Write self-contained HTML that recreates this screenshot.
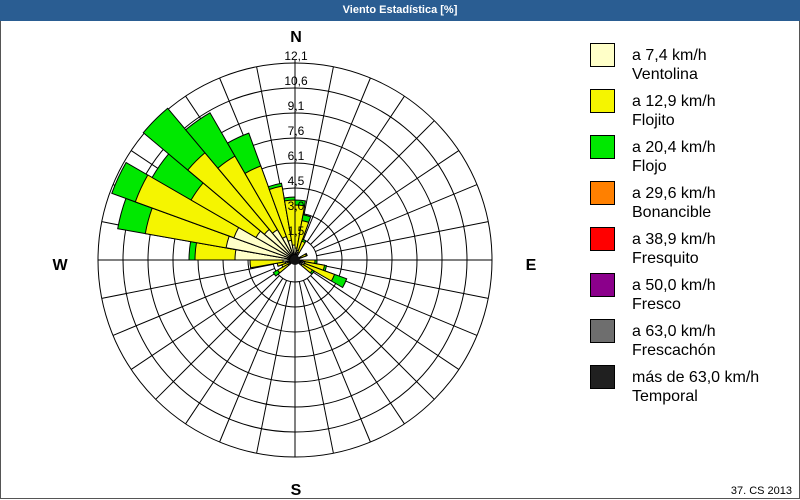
<!DOCTYPE html><html><head><style>
body{margin:0;width:800px;height:500px;overflow:hidden;background:#fff;font-family:"Liberation Sans",sans-serif}
#t{position:absolute;left:0;top:0;width:800px;height:21px;background:#2a5d92;color:#fff;font-size:11px;font-weight:bold;text-align:center;line-height:21px}
#f{position:absolute;left:0;top:21px;width:798px;height:477px;border:1px solid #555;border-top:none}
</style></head><body>
<div id="t">Viento Estadística [%]</div><div id="f"></div>
<svg id="s" width="800" height="500" style="position:absolute;left:0;top:0" font-family="Liberation Sans, sans-serif"></svg>
<script>
var s=document.getElementById('s'),cx=295,cy=260,h='';
function P(b,r){var a=b*Math.PI/180;return [(cx+r*Math.sin(a)).toFixed(1),(cy-r*Math.cos(a)).toFixed(1)];}
for(var i=0;i<8;i++){h+='<circle cx="'+cx+'" cy="'+cy+'" r="'+(197-25*i)+'" fill="none" stroke="#000" stroke-width="1"/>';}
for(var k=0;k<32;k++){var a=P(k*11.25,22),b=P(k*11.25,197);h+='<line x1="'+a[0]+'" y1="'+a[1]+'" x2="'+b[0]+'" y2="'+b[1]+'" stroke="#000"/>';}
h+='<line x1="'+(cx-197)+'" y1="'+cy+'" x2="'+(cx+197)+'" y2="'+cy+'" stroke="#000"/><line x1="'+cx+'" y1="'+(cy-200)+'" x2="'+cx+'" y2="'+(cy+197)+'" stroke="#000"/>';
function W(c,r,col){var a=P(c-5,r),b=P(c+5,r);h+='<path d="M'+cx+' '+cy+'L'+a[0]+' '+a[1]+'A'+r+' '+r+' 0 0 1 '+b[0]+' '+b[1]+'Z" fill="'+col+'" stroke="#000" stroke-width="1"/>';}
var d=[[275,60,100,106],[285,70,152,180],[295,65,170,195],[305,45,120,165],[315,40,140,198],[325,35,120,170],[335,25,100,135],[345,20,75,78],[355,15,60,63],[5,12,55,60],[15,10,40,46],[25,8,20,22],[65,6,12,13],[95,8,20,22],[105,10,30,32],[115,10,42,55],[125,8,20,22],[235,8,20,25],[255,10,18,18],[265,12,45,45],[245,6,14,14]];
d.forEach(function(e){W(e[0],e[3],'#00e800');W(e[0],e[2],'#f5f500');W(e[0],e[1],'#ffffc8');});
h+='<circle cx="'+cx+'" cy="'+cy+'" r="5" fill="#111"/>';
var L=['12,1','10,6','9,1','7,6','6,1','4,5','3,0','1,5'];
L.forEach(function(t,i){h+='<text x="'+(cx+1)+'" y="'+(cy-200+25*i)+'" font-size="12" text-anchor="middle" fill="#000">'+t+'</text>';});
h+='<g font-size="16" font-weight="bold"><text x="296" y="42" text-anchor="middle">N</text><text x="296" y="495" text-anchor="middle">S</text><text x="60" y="270" text-anchor="middle">W</text><text x="531" y="270" text-anchor="middle">E</text></g>';
var G=[['#ffffc8','a 7,4 km/h','Ventolina'],['#f5f500','a 12,9 km/h','Flojito'],['#00e800','a 20,4 km/h','Flojo'],['#ff8000','a 29,6 km/h','Bonancible'],['#ff0000','a 38,9 km/h','Fresquito'],['#8b008b','a 50,0 km/h','Fresco'],['#6e6e6e','a 63,0 km/h','Frescachón'],['#202020','más de 63,0 km/h','Temporal']];
G.forEach(function(g,i){var y=43+46*i;h+='<rect x="590.5" y="'+(y+.5)+'" width="24" height="23" fill="'+g[0]+'" stroke="#000"/><text x="632" y="'+(y+17)+'" font-size="16">'+g[1]+'</text><text x="632" y="'+(y+36)+'" font-size="16">'+g[2]+'</text>';});
h+='<text x="792" y="494" font-size="11" text-anchor="end">37. CS 2013</text>';
s.innerHTML=h;
</script></body></html>
